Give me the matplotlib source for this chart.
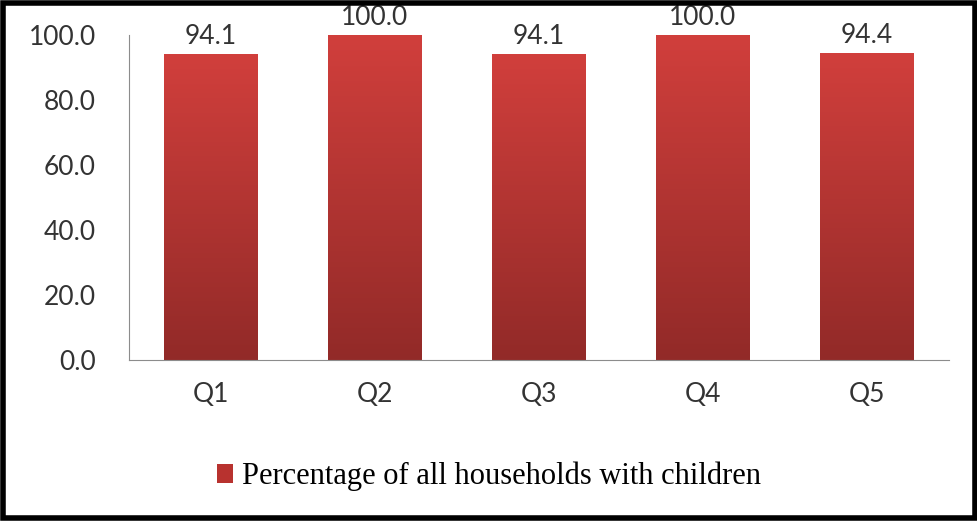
import numpy as np
import matplotlib.pyplot as plt
from matplotlib.patches import Rectangle, Patch
from matplotlib.colors import LinearSegmentedColormap

# data
quintiles = ["Q1", "Q2", "Q3", "Q4", "Q5"]
values = [94.1, 100.0, 94.1, 100.0, 94.4]
series_name = "Percentage of all households with children"

top_color = "#d13f3c"
bottom_color = "#922a28"
grad = LinearSegmentedColormap.from_list("bar_grad", [bottom_color, top_color])

plt.rcParams["font.family"] = ["Lato", "DejaVu Sans"]

fig = plt.figure(figsize=(9.78, 5.21), dpi=100)
ax = fig.add_axes([0.132, 0.309, 0.838, 0.624])

x = np.arange(len(quintiles))
bars = ax.bar(x, values, width=0.57, color="none", edgecolor="none")

# gradient fill for each bar
g = np.linspace(0, 1, 256).reshape(-1, 1)
for b in bars:
    x0, w, h = b.get_x(), b.get_width(), b.get_height()
    ax.imshow(g, cmap=grad, origin="lower", aspect="auto",
              extent=[x0, x0 + w, 0, h], zorder=2)

ax.set_xlim(-0.5, len(quintiles) - 0.5)
ax.set_ylim(0, 100)
ax.set_yticks(np.arange(0, 101, 20))
ax.set_yticklabels([f"{v:.1f}" for v in np.arange(0, 101, 20)])
ax.set_xticks(x)
ax.set_xticklabels(quintiles)

for s in ["top", "right"]:
    ax.spines[s].set_visible(False)
ax.spines["left"].set_color("#8c8c8c")
ax.spines["bottom"].set_color("#8c8c8c")
ax.tick_params(axis="both", length=0, labelsize=19, colors="#333333")
ax.tick_params(axis="y", pad=24)
ax.tick_params(axis="x", pad=16)

# value labels
for xi, v in zip(x, values):
    ax.text(xi, v + 1.5, f"{v:.1f}", ha="center", va="bottom",
            fontsize=19, color="#333333")

# legend
handle = Patch(facecolor="#b8322f", edgecolor="none")
fig.legend([handle], [series_name], loc="center", bbox_to_anchor=(0.5, 0.085),
           frameon=False, handlelength=0.5, handleheight=0.55, handletextpad=0.3,
           prop={"family": "Liberation Serif", "size": 22})

# black outer border
fig.patches.append(Rectangle((0.003, 0.005), 0.994, 0.99, transform=fig.transFigure,
                             fill=False, edgecolor="black", linewidth=4))

fig.savefig("out.png", dpi=100)
